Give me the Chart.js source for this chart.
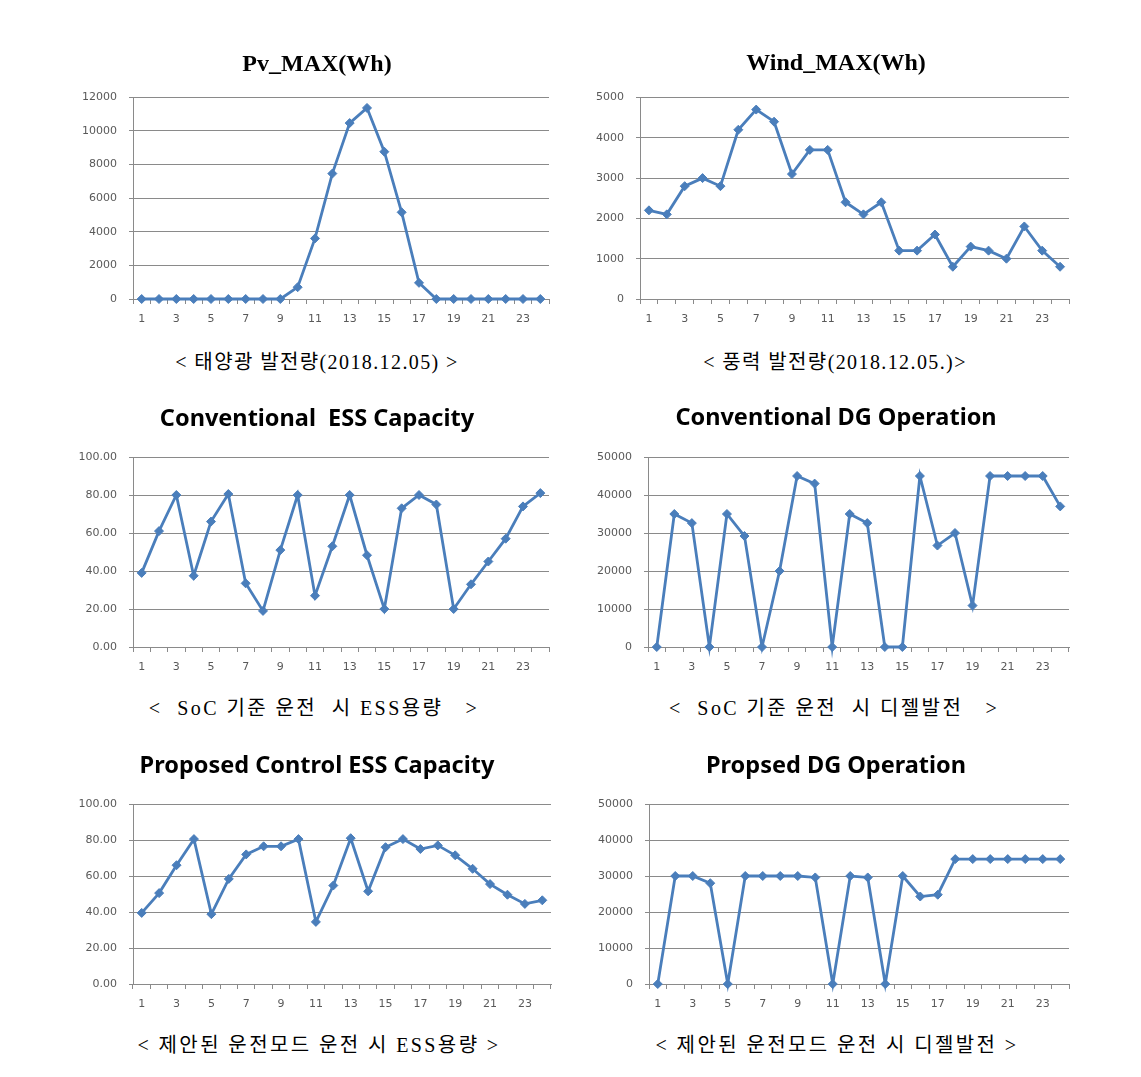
<!DOCTYPE html>
<html lang="ko">
<head>
<meta charset="UTF-8">
<title>ESS / DG charts</title>
<style>
    body { margin: 0; background: #fff; }
    #page { position: relative; width: 1141px; height: 1077px; }
    canvas { position: absolute; }
    .cap {
        position: absolute;
        white-space: pre;
        font-family: "Liberation Serif", "Noto Sans CJK KR", serif;
        font-size: 20px;
        letter-spacing: 1.4px;
        color: #000;
        transform: translate(-50%, -50%);
    }
    .cap.wide { letter-spacing: 2.4px; }
</style>
</head>
<body>
<div id="page">
    <canvas id="c1"></canvas>
    <canvas id="c2"></canvas>
    <canvas id="c3"></canvas>
    <canvas id="c4"></canvas>
    <canvas id="c5"></canvas>
    <canvas id="c6"></canvas>
    <div class="cap" style="left:317px; top:360px;">&lt; 태양광 발전량(2018.12.05) &gt;</div>
    <div class="cap" style="left:835px; top:360px;">&lt; 풍력 발전량(2018.12.05.)&gt;</div>
    <div class="cap wide" style="left:314px; top:706px;">&lt;  SoC 기준 운전  시 ESS용량   &gt;</div>
    <div class="cap wide" style="left:834px; top:706px;">&lt;  SoC 기준 운전  시 디젤발전   &gt;</div>
    <div class="cap wide" style="left:319px; top:1043px;">&lt; 제안된 운전모드 운전 시 ESS용량 &gt;</div>
    <div class="cap wide" style="left:837px; top:1043px;">&lt; 제안된 운전모드 운전 시 디젤발전 &gt;</div>
</div>

<script src="https://cdn.jsdelivr.net/npm/chart.js@4.4.1/dist/chart.umd.min.js"></script>
<script>
    // hours of the day
    const HOURS = ["1", "2", "3", "4", "5", "6", "7", "8", "9", "10", "11", "12",
                   "13", "14", "15", "16", "17", "18", "19", "20", "21", "22", "23", "24"];

    // values
    const pvMax = [0, 0, 0, 0, 0, 0, 0, 0, 0, 700, 3600, 7450,
                   10450, 11350, 8750, 5150, 960, 0, 0, 0, 0, 0, 0, 0];
    const windMax = [2200, 2100, 2800, 3000, 2800, 4200, 4700, 4400, 3100, 3700, 3700, 2400,
                     2100, 2400, 1200, 1200, 1600, 800, 1300, 1200, 1000, 1800, 1200, 800];
    const convEss = [39, 61, 80, 37.5, 66, 80.5, 33.5, 19, 51, 80, 27, 53,
                     80, 48.3, 20, 73, 80, 75, 20, 33, 45, 57, 74, 81];
    const convDg = [0, 35000, 32600, 0, 35000, 29200, 0, 20000, 45000, 43000, 0, 35000,
                    32600, 0, 0, 45000, 26700, 30000, 10900, 45000, 45000, 45000, 45000, 37000];
    const propEss = [39.5, 50.5, 66, 80.5, 38.8, 58.4, 72, 76.5, 76.5, 80.5, 34.5, 54.7,
                     81, 51.5, 76, 80.5, 75, 77, 71.5, 64, 55.5, 49.6, 44.5, 46.5];
    const propDg = [0, 30000, 30000, 28000, 0, 30000, 30000, 30000, 30000, 29600, 0, 30000,
                    29600, 0, 30000, 24300, 24800, 34700, 34700, 34700, 34700, 34700, 34700, 34700];

    const LINE = '#4a7ebb';
    const GRID = '#8a8a8a';
    const serifTitle = {family: '"Liberation Serif", serif', size: 24, weight: 'bold'};
    const sansTitle = {family: '"Noto Sans", "Open Sans", sans-serif', size: 23.5, weight: 'bold'};

    // box: canvas left/width, title centre y, plot top/bottom, y axis width, right gap
    function makeChart(id, box, title, titleFont, data, yMax, yStep, decimals) {
        const cv = document.getElementById(id);
        const top = box.titleY - 30;
        const lh = titleFont.size * 1.2;
        cv.width = box.w;
        cv.height = box.bottom + 30 - top;
        cv.style.left = box.x + 'px';
        cv.style.top = top + 'px';

        return new Chart(cv, {
            type: 'line',
            data: {
                labels: HOURS,
                datasets: [{
                    data: data,
                    yAxisID: 'y',
                    borderColor: LINE,
                    backgroundColor: LINE,
                    borderWidth: 2.8,
                    pointStyle: 'rectRot',
                    pointRadius: 4.5,
                    pointBorderWidth: 1,
                    tension: 0,
                    clip: false
                }]
            },
            options: {
                responsive: false,
                animation: false,
                devicePixelRatio: 1,
                layout: {padding: 0},
                plugins: {
                    legend: {display: false},
                    tooltip: {enabled: false},
                    title: {
                        display: true,
                        text: title,
                        color: '#000',
                        font: titleFont,
                        padding: {top: 30 - lh / 2, bottom: box.plotTop - top - 30 - lh / 2}
                    }
                },
                scales: {
                    x: {
                        offset: true,
                        grid: {offset: true, drawOnChartArea: false, tickLength: 5, color: GRID},
                        border: {color: GRID},
                        ticks: {
                            autoSkip: false,
                            maxRotation: 0,
                            padding: 9,
                            color: '#595959',
                            font: {family: '"DejaVu Sans", sans-serif', size: 11},
                            callback: function(v, i) { return i % 2 === 0 ? this.getLabelForValue(v) : ''; }
                        },
                        afterFit: function(s) { s.height = 30; }
                    },
                    y: {
                        min: 0,
                        max: yMax,
                        grid: {color: GRID, tickLength: 4},
                        border: {color: GRID},
                        ticks: {
                            stepSize: yStep,
                            padding: 12,
                            color: '#595959',
                            font: {family: '"DejaVu Sans", sans-serif', size: 11},
                            callback: function(v) { return decimals ? v.toFixed(2) : String(v); }
                        },
                        afterFit: function(s) { s.width = box.yw; }
                    },
                    // empty right axis, only keeps the gap so the title stays centred on the canvas
                    gap: {
                        type: 'linear',
                        position: 'right',
                        grid: {display: false},
                        border: {display: false},
                        ticks: {display: false},
                        afterFit: function(s) { s.width = box.padR; }
                    }
                }
            }
        });
    }

    makeChart('c1', {x: 70, w: 494, titleY: 65, plotTop: 97, bottom: 299, yw: 63, padR: 15},
        'Pv_MAX(Wh)', serifTitle, pvMax, 12000, 2000, false);
    makeChart('c2', {x: 578, w: 516, titleY: 64, plotTop: 97.5, bottom: 299.5, yw: 62, padR: 25},
        'Wind_MAX(Wh)', serifTitle, windMax, 5000, 1000, false);
    makeChart('c3', {x: 70, w: 494, titleY: 419, plotTop: 457, bottom: 647, yw: 63, padR: 15},
        'Conventional  ESS Capacity', sansTitle, convEss, 100, 20, true);
    makeChart('c4', {x: 578, w: 516, titleY: 418, plotTop: 457, bottom: 647, yw: 70, padR: 25},
        'Conventional DG Operation', sansTitle, convDg, 50000, 10000, false);
    makeChart('c5', {x: 70, w: 494, titleY: 766, plotTop: 804, bottom: 984, yw: 63, padR: 13},
        'Proposed Control ESS Capacity', sansTitle, propEss, 100, 20, true);
    makeChart('c6', {x: 578, w: 516, titleY: 766, plotTop: 804, bottom: 984, yw: 71, padR: 25},
        'Propsed DG Operation', sansTitle, propDg, 50000, 10000, false);
</script>
</body>
</html>
